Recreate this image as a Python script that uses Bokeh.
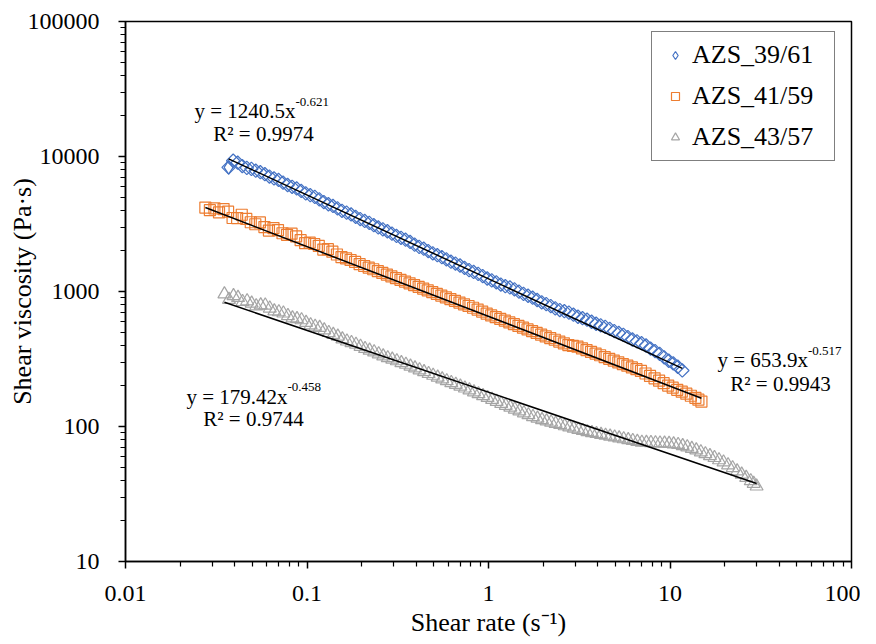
import numpy as np
from bokeh.plotting import figure
from bokeh.models import (Label, Legend, LegendItem, FixedTicker,
                          CustomJSTickFormatter, ColumnDataSource)
from bokeh.embed import file_html
from bokeh.resources import INLINE

FONT = "Liberation Serif"

# ---------------- data ----------------
series_names = ["AZS_39/61", "AZS_41/59", "AZS_43/57"]

x_39 = [0.0370, 0.0392, 0.0415, 0.0440, 0.0466, 0.0494, 0.0522, 0.0553, 0.0586, 0.0621,
        0.0658, 0.0697, 0.0738, 0.0782, 0.0828, 0.0877, 0.0929, 0.0984, 0.1042, 0.1104,
        0.1169, 0.1238, 0.1312, 0.1390, 0.1472, 0.1559, 0.1652, 0.1750, 0.1854, 0.1964,
        0.2080, 0.2203, 0.2333, 0.2471, 0.2618, 0.2773, 0.2938, 0.3112, 0.3296, 0.3491,
        0.3698, 0.3917, 0.4150, 0.4396, 0.4656, 0.4932, 0.5224, 0.5534, 0.5861, 0.6209,
        0.6577, 0.6967, 0.7379, 0.7817, 0.8279, 0.8770, 0.9290, 0.9841, 1.042, 1.104,
        1.169, 1.238, 1.312, 1.390, 1.472, 1.559, 1.652, 1.750, 1.854, 1.964,
        2.080, 2.203, 2.333, 2.471, 2.618, 2.773, 2.938, 3.112, 3.296, 3.491,
        3.698, 3.917, 4.150, 4.396, 4.656, 4.932, 5.224, 5.534, 5.861, 6.209,
        6.577, 6.967, 7.379, 7.817, 8.279, 8.770, 9.290, 9.841, 10.42, 11.04,
        11.69]
y_39 = [8300, 9300, 9000, 8500, 8240, 8100, 7850, 7650, 7390, 7100,
        6880, 6700, 6405, 6150, 5965, 5800, 5555, 5330, 5170, 5020,
        4813, 4600, 4430, 4300, 4125, 3960, 3840, 3720, 3575, 3440,
        3330, 3225, 3098, 2980, 2885, 2795, 2685, 2580, 2500, 2420,
        2328, 2225, 2142, 2075, 1994, 1918, 1857, 1798, 1729, 1662,
        1610, 1558, 1498, 1440, 1395, 1351, 1299, 1248, 1209, 1170,
        1126, 1094, 1072, 1038, 998, 960, 930, 900, 865, 832,
        806, 780, 750, 729, 715, 697, 673, 650, 634, 618,
        597, 577, 562, 547, 529, 509, 493, 478, 459, 441,
        427, 414, 398, 378, 362, 345, 325, 307, 293, 277,
        260]

x_41 = [0.02754, 0.02917, 0.0309, 0.03275, 0.0347, 0.03675, 0.0389, 0.04121, 0.0437, 0.04629,
        0.0490, 0.05191, 0.0550, 0.05826, 0.0617, 0.06536, 0.0692, 0.07330, 0.0776, 0.08220,
        0.0871, 0.09226, 0.0977, 0.1035, 0.1096, 0.1161, 0.1230, 0.1303, 0.1380, 0.1462,
        0.1549, 0.1641, 0.1738, 0.1841, 0.1950, 0.2066, 0.2188, 0.2318, 0.2455, 0.2601,
        0.2754, 0.2917, 0.3090, 0.3273, 0.3467, 0.3673, 0.3890, 0.4121, 0.4365, 0.4624,
        0.4898, 0.5188, 0.5495, 0.5821, 0.6166, 0.6532, 0.6918, 0.7328, 0.7762, 0.8222,
        0.8710, 0.9226, 0.9772, 1.035, 1.096, 1.161, 1.230, 1.303, 1.380, 1.462,
        1.549, 1.641, 1.738, 1.841, 1.950, 2.066, 2.188, 2.318, 2.455, 2.601,
        2.754, 2.917, 3.090, 3.273, 3.467, 3.673, 3.890, 4.121, 4.365, 4.624,
        4.898, 5.188, 5.495, 5.821, 6.166, 6.532, 6.918, 7.330, 7.762, 8.222,
        8.710, 9.226, 9.772, 10.35, 10.96, 11.61, 12.30, 13.03, 13.80, 14.34,
        14.9]
y_41 = [4188, 4000, 4132, 3850, 4077, 3900, 3504, 3500, 3704, 3450,
        3257, 3150, 3250, 3000, 2826, 2950, 2853, 2700, 2627, 2680,
        2562, 2400, 2279, 2300, 2248, 2180, 2046, 2060, 1973, 1880,
        1796, 1760, 1712, 1655, 1594, 1545, 1502, 1462, 1416, 1372,
        1334, 1296, 1257, 1220, 1184, 1150, 1116, 1083, 1051, 1020,
        990, 961, 933, 906, 879, 853, 828, 804, 781, 758,
        735, 710, 685, 665, 645, 626, 608, 590, 573, 556,
        540, 524, 509, 494, 479, 465, 452, 439, 426, 413,
        401, 396, 391, 379, 368, 357, 347, 337, 327, 317,
        308, 299, 290, 282, 274, 266, 258, 247, 237, 227.5,
        218.5, 209.5, 201, 194, 187, 181, 175, 169, 163, 158,
        153]

x_43 = [0.03508, 0.03716, 0.03936, 0.04169, 0.04416, 0.04678, 0.04955, 0.05249, 0.05559, 0.05889,
        0.06237, 0.06607, 0.06998, 0.07413, 0.07852, 0.08318, 0.08810, 0.09332, 0.09886, 0.1047,
        0.1109, 0.1175, 0.1245, 0.1319, 0.1396, 0.1479, 0.1567, 0.1660, 0.1758, 0.1862,
        0.1972, 0.2089, 0.2213, 0.2344, 0.2483, 0.2630, 0.2786, 0.2951, 0.3126, 0.3311,
        0.3508, 0.3716, 0.3936, 0.4169, 0.4416, 0.4678, 0.4955, 0.5249, 0.5559, 0.5889,
        0.6237, 0.6607, 0.6998, 0.7413, 0.7852, 0.8318, 0.8810, 0.9332, 0.9886, 1.047,
        1.109, 1.175, 1.245, 1.319, 1.396, 1.479, 1.567, 1.660, 1.758, 1.862,
        1.972, 2.089, 2.213, 2.344, 2.483, 2.630, 2.786, 2.951, 3.126, 3.311,
        3.508, 3.716, 3.936, 4.169, 4.416, 4.678, 4.955, 5.249, 5.559, 5.889,
        6.237, 6.607, 6.998, 7.413, 7.852, 8.318, 8.810, 9.332, 9.886, 10.47,
        11.09, 11.75, 12.45, 13.19, 13.96, 14.79, 15.67, 16.60, 17.58, 18.62,
        19.72, 20.89, 22.13, 23.44, 24.83, 26.30, 27.86, 28.91, 30.0]
y_43 = [956, 870, 928, 900, 840, 850, 816, 780, 792, 790,
        751, 715, 705, 690, 661, 635, 627, 615, 588, 565,
        551, 540, 517, 495, 479, 465, 444, 428, 417, 405,
        391, 377, 366, 356, 344, 332, 322, 314, 305.6, 296,
        288, 279, 270.6, 262, 253.8, 246, 238.6, 231, 224.2, 217.5,
        210.8, 204.5, 198.2, 192, 185.8, 180, 174.2, 168.7, 163.4, 158.1,
        152.9, 147.9, 143.0, 138.5, 134.1, 129.9, 125.8, 121.8, 118.0, 114.9,
        111.9, 109.6, 107.4, 105.2, 103.0, 100.9, 98.9, 96.9, 94.9, 93.0,
        91.1, 89.7, 88.4, 87.1, 85.8, 84.5, 83.3, 82.0, 80.8, 79.6,
        78.5, 77.3, 76.2, 76.0, 75.7, 75.5, 75.2, 75.0, 74.7, 74.0,
        73.3, 71.9, 70.4, 68.6, 66.8, 64.7, 62.6, 60.6, 58.7, 56.5,
        54.4, 51.8, 49.3, 46.7, 44.2, 41.8, 39.5, 37.8, 36.1]

# power-law trend lines y = a * x^b (from the chart's equations)
fit_a = [1240.5, 653.9, 179.42]
fit_b = [-0.621, -0.517, -0.458]
fit_a_txt = ["1240.5", "653.9", "179.42"]
fit_b_txt = ["-0.621", "-0.517", "-0.458"]
r2_txt = ["0.9974", "0.9943", "0.9744"]

x_ticks = [0.01, 0.1, 1, 10, 100]
y_ticks = [10, 100, 1000, 10000, 100000]

# ---------------- figure ----------------
p = figure(width=860, height=643, x_axis_type="log", y_axis_type="log",
           x_range=(0.01, 100), y_range=(10, 100000),
           output_backend="svg", toolbar_location=None,
           min_border_left=125, min_border_right=9,
           min_border_top=21, min_border_bottom=82)
p.background_fill_color = "white"
p.border_fill_color = "white"
p.outline_line_color = "black"
p.outline_line_width = 1.5
p.grid.visible = False

fmt = CustomJSTickFormatter(code="return Number(tick.toPrecision(6)).toString();")
x_minor = [m * 10.0 ** e for e in range(-2, 2) for m in range(2, 10)]
y_minor = [m * 10.0 ** e for e in range(1, 5) for m in range(2, 10)]
p.xaxis.ticker = FixedTicker(ticks=x_ticks, minor_ticks=x_minor)
p.yaxis.ticker = FixedTicker(ticks=y_ticks, minor_ticks=y_minor)

for ax in (p.xaxis[0], p.yaxis[0]):
    ax.formatter = fmt
    ax.axis_line_color = "black"
    ax.axis_line_width = 1.5
    ax.major_tick_line_color = "black"
    ax.major_tick_line_width = 1.5
    ax.minor_tick_line_color = "black"
    ax.minor_tick_line_width = 1.2
    ax.major_tick_in = 0
    ax.major_tick_out = 7
    ax.minor_tick_in = 0
    ax.minor_tick_out = 5
    ax.major_label_text_font = FONT
    ax.major_label_text_font_size = "24px"
    ax.major_label_text_color = "black"
    ax.axis_label_text_font = FONT
    ax.axis_label_text_font_size = "26px"
    ax.axis_label_text_font_style = "normal"
    ax.axis_label_text_color = "black"

p.xaxis.axis_label = "Shear rate (s\u207b\u00b9)"
p.yaxis.axis_label = "Shear viscosity (Pa\u00b7s)"
p.xaxis.major_label_standoff = 17
p.xaxis.axis_label_standoff = 4
p.yaxis.major_label_standoff = 19
p.yaxis.axis_label_standoff = -12

# ---------------- markers ----------------
src39 = ColumnDataSource(data=dict(x=x_39, y=y_39))
src41 = ColumnDataSource(data=dict(x=x_41, y=y_41))
src43 = ColumnDataSource(data=dict(x=x_43, y=y_43))

r39 = p.scatter("x", "y", source=src39, marker="square", angle=np.pi / 4, size=9.5,
                fill_color=None, line_color="#4472C4", line_width=1.2)
r41 = p.scatter("x", "y", source=src41, marker="square", size=11,
                fill_color=None, line_color="#ED7D31", line_width=1.2)
r43 = p.scatter("x", "y", source=src43, marker="triangle", size=13,
                fill_color=None, line_color="#A5A5A5", line_width=1.2)
# legend key for the diamond series (legend glyphs are drawn unrotated):
# a diamond marker on the series' first measured point
src39_key = ColumnDataSource(data=dict(x=x_39[:1], y=y_39[:1]))
r39_key = p.scatter("x", "y", source=src39_key, marker="diamond", size=13.5,
                    fill_color=None, line_color="#4472C4", line_width=1.2)

# ---------------- trend lines ----------------
for xs, a, b in zip([x_39, x_41, x_43], fit_a, fit_b):
    x0, x1 = min(xs), max(xs)
    p.line([x0, x1], [a * x0 ** b, a * x1 ** b], line_color="black", line_width=1.5)

# ---------------- equation labels ----------------
# (x_left_of_y_line, x_sup, x_center_R2, y_base, y_sup, y_R2) in data units
eq_pos = [
    (0.0240, 0.0864, 0.0576, 21910, 25119, 14555),
    (18.27, 57.6, 40.6, 308.3, 359.4, 204.7),
    (0.02168, 0.0781, 0.0507, 166.8, 194.5, 112.7),
]
for i, (xl, xs_, xc, yb, ys, yr) in enumerate(eq_pos):
    p.add_layout(Label(x=xl, y=yb, text="y = %sx" % fit_a_txt[i],
                       text_font=FONT, text_font_size="21px", text_color="black",
                       text_align="left", text_baseline="alphabetic"))
    p.add_layout(Label(x=xs_, y=ys, text=fit_b_txt[i],
                       text_font=FONT, text_font_size="13px", text_color="black",
                       text_align="left", text_baseline="alphabetic"))
    p.add_layout(Label(x=xc, y=yr, text="R\u00b2 = %s" % r2_txt[i],
                       text_font=FONT, text_font_size="21px", text_color="black",
                       text_align="center", text_baseline="alphabetic"))

# ---------------- legend ----------------
legend = Legend(items=[LegendItem(label=series_names[0], renderers=[r39_key]),
                       LegendItem(label=series_names[1], renderers=[r41]),
                       LegendItem(label=series_names[2], renderers=[r43])],
                location=(526, 400), orientation="vertical",
                border_line_color="black", border_line_width=1.5,
                background_fill_color="white", background_fill_alpha=1,
                label_text_font=FONT, label_text_font_size="26px",
                label_text_color="black",
                padding=8, spacing=11, glyph_width=30, glyph_height=20,
                label_height=20, label_width=134,
                label_standoff=2, margin=0)
p.add_layout(legend)

open("out.html", "w").write(file_html(p, INLINE))
